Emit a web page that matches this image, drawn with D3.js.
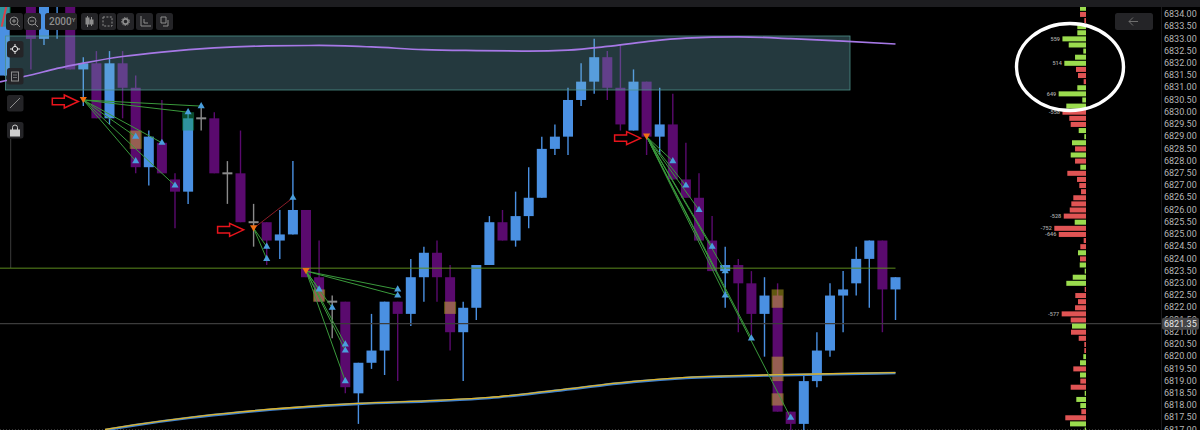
<!DOCTYPE html>
<html>
<head>
<meta charset="utf-8">
<script src="https://cdn.jsdelivr.net/npm/d3@7/dist/d3.min.js"></script>
<style>
  html, body { margin: 0; padding: 0; background: #000; overflow: hidden; }
  svg { display: block; font-family: Roboto, sans-serif; }
</style>
</head>
<body>
<div id="chart"></div>
<script>
// candles, first one is index -5 (cut off by the left edge)
var firstCandle = -5;
var opens = [6831.5, 6835.5, 6835, 6833, 6834.75, 6835,
  6831.75, 6832, 6829.75, 6832, 6831, 6827.75, 6828.75, 6827.25, 6826.75, 6829.75,
  6829.75, 6827.5, 6827.5, 6825.5, 6825.5, 6824.75, 6825, 6826, 6823.25, 6822.25,
  6822.25, 6818.5, 6819.75, 6820.25, 6822.25, 6821.75, 6823.25, 6824.25, 6823.25, 6821,
  6822, 6823.75, 6825.5, 6824.75, 6825.75, 6826.5, 6828.5, 6829, 6830.5, 6831.25,
  6832.25, 6831, 6829.25, 6831.25, 6829, 6829.5, 6827.25, 6826.5, 6824.75, 6823.5,
  6823.75, 6823, 6821.75, 6822.5, 6817.75, 6817.25, 6819, 6820.25, 6822.5, 6823,
  6824, 6824.75, 6822.75];
var closes = [6835, 6835.5, 6833, 6835, 6835, 6831.75,
  6832, 6829.75, 6832, 6831, 6827.75, 6829, 6827.5, 6826.75, 6829.75, 6829.75,
  6827.5, 6827.5, 6825.5, 6825.5, 6824.75, 6825, 6826, 6823.25, 6822.25, 6822.25,
  6818.75, 6819.75, 6820.25, 6822.25, 6821.75, 6823.25, 6824.25, 6823.25, 6821, 6822,
  6823.75, 6825.5, 6824.75, 6825.75, 6826.5, 6828.5, 6829, 6830.5, 6831.25, 6832.25,
  6831, 6829.5, 6831.25, 6829, 6829.5, 6827.25, 6826.5, 6824.75, 6823.5, 6823.75,
  6823, 6821.75, 6822.5, 6817.75, 6817.25, 6819, 6820.25, 6822.5, 6822.75, 6824,
  6824.75, 6822.75, 6823.25];
var highs = [6835, 6835.5, 6835, 6835, 6835, 6835,
  6832.25, 6832.5, 6832.5, 6832.5, 6831.5, 6829.25, 6830.5, 6827.5, 6830, 6830.25,
  6830, 6828, 6829.25, 6826.25, 6825.5, 6826, 6828, 6826, 6824.75, 6822.5,
  6822.25, 6819.75, 6821.75, 6822.25, 6822.25, 6824, 6824.5, 6824.75, 6823.75, 6822.25,
  6823.75, 6825.75, 6826, 6826.75, 6827.75, 6829, 6829.5, 6831, 6832, 6833,
  6832.5, 6832.75, 6831.75, 6831.25, 6831, 6830.75, 6828.75, 6827.5, 6825.75, 6824.5,
  6824, 6823.5, 6823.25, 6823, 6817.75, 6819.25, 6821, 6823, 6823.5, 6824.5,
  6824.75, 6824.75, 6823.25];
var lows = [6831.5, 6835.5, 6831.75, 6832.75, 6833, 6831.75,
  6830.25, 6829.75, 6829.5, 6829.75, 6827.5, 6827, 6827.5, 6825.25, 6826.25, 6829.25,
  6827.5, 6826.25, 6825.5, 6824.5, 6823.75, 6824, 6825, 6823.25, 6822.25, 6820.75,
  6818.5, 6817.25, 6819.5, 6819.25, 6819, 6821.25, 6822.25, 6822.25, 6820.25, 6819,
  6821.5, 6823.75, 6824.75, 6824.5, 6825.25, 6826.5, 6828.25, 6828.25, 6830.25, 6830.75,
  6830.5, 6829.25, 6829.25, 6828.25, 6828.25, 6827.25, 6826.5, 6824.75, 6823.5, 6822,
  6821, 6820.75, 6820, 6817.75, 6816.75, 6816.75, 6818.75, 6820, 6821, 6822.5,
  6822, 6821, 6821.5];

// wider tinted boxes laid over some candles
var boxCandles = [-5, 5, 9, 19, 29, 54, 54, 54];
var boxTops = [6835, 6829.25, 6830, 6822.75, 6822.25, 6822.75, 6820, 6818.5];
var boxBottoms = [6833.5, 6828.5, 6829.25, 6822.25, 6821.75, 6822, 6819, 6818];
var boxKinds = ["green", "orange", "green", "orange", "orange", "orange", "orange", "orange"];

// moving averages, read at a few candles
var purpleCandles = [-5.36, -3, -1, 1, 4, 7, 11, 15, 19, 23, 27, 31, 35, 38, 41, 44, 47, 51, 55, 59, 63];
var purplePrices = [6831.24, 6831.52, 6831.79, 6832.01, 6832.28, 6832.46, 6832.63, 6832.71, 6832.73, 6832.67, 6832.56,
  6832.52, 6832.5, 6832.54, 6832.69, 6832.89, 6833.03, 6833.08, 6833.01, 6832.91, 6832.79];
var yellowCandles = [2.66, 5, 9, 13, 17, 22, 28, 32, 37, 43, 47, 53, 57, 63];
var yellowPrices = [6817, 6817.2, 6817.49, 6817.72, 6817.9, 6818.07, 6818.19, 6818.31, 6818.6, 6818.97, 6819.13, 6819.23, 6819.27, 6819.33];

// entry signals and their target triangles
var signalCandles = [1, 14, 18, 44];
var signalPrices = [6830.5, 6825.25, 6823.5, 6829];
var targetCandles = [
  [10, 9, 5, 7, 5, 8],
  [15, 15],
  [25, 25, 19, 20, 21, 21, 21],
  [46, 47, 48, 49, 50, 50, 52, 55]
];
var targetPrices = [
  [6830.25, 6830, 6829, 6828.75, 6828, 6827],
  [6824.5, 6824],
  [6822.75, 6822.5, 6822.75, 6822, 6820.5, 6820.25, 6819],
  [6828, 6827, 6826, 6824.5, 6823.5, 6822.5, 6820.75, 6817.5]
];
var arrowSignals = [0, 1, 3];

// volume profile, one value per 0.25 starting at 6834.25
var profileTop = 6834.25;
var profileValues = [142, -142, -40, 206, 206, 559, 410, 64, 260, 514, -237, -190, -55, 206, 649, 88, 467,
  -558, -396, -363, 173, 40, 332, -260, 363, -260, 135, -443, -213, -159, -118, -301, -348, -386, -528,
  268, -752, -646, -55, -135, 190, -142, 149, 31, 315, 467, -31, -254, -190, -260, -577, -363, 332, -356,
  -173, -40, -40, 64, 142, -301, 142, -135, -363, 31, 230, 135, -111, -491, 379, 31];

var priceTicks = d3.range(6817, 6834.5, 0.5);
var lastPrice = 6821.35;
var levelPrice = 6823.62;

var svgWidth = 1200;
var svgHeight = 430;

var colors = {
  up: "#4a90e2",
  down: "#5a0a6e",
  doji: "#8a8a8a",
  green: "rgba(20,150,90,0.5)",
  orange: "rgba(240,220,40,0.4)"
};

var svg = d3.select("#chart").append("svg")
  .attr("width", svgWidth)
  .attr("height", svgHeight);

svg.append("rect")
  .attr("width", svgWidth)
  .attr("height", svgHeight)
  .attr("fill", "#000");

// price scale, same for candles and profile
var y = d3.scaleLinear()
  .domain([6817, 6834.59])
  .range([430, 0]);

// candle index to pixel
var x = d3.scaleLinear()
  .domain([-5, 63])
  .range([4.7, 895.5]);

var candles = opens.map(function(o, i) {
  return { index: firstCandle + i, open: o, close: closes[i], high: highs[i], low: lows[i] };
});

function candleColor(d) {
  if (d.open === d.close) return colors.doji;
  return d.close > d.open ? colors.up : colors.down;
}

var bodyWidth = 10;

// thin rail under the side buttons
svg.append("line")
  .attr("x1", 10.7)
  .attr("x2", 10.7)
  .attr("y1", 139)
  .attr("y2", 268)
  .attr("stroke", "#3a3a3a");

// dotted grid line at the very bottom
svg.append("line")
  .attr("x1", 0)
  .attr("x2", 1161)
  .attr("y1", 429.5)
  .attr("y2", 429.5)
  .attr("stroke", "#333")
  .attr("stroke-dasharray", "1,2");

// price lines under the candles
var chart = svg.append("g");

var wicks = chart.selectAll(".wick")
  .data(candles)
  .enter()
  .append("line")
  .attr("class", "wick")
  .attr("x1", d => x(d.index))
  .attr("x2", d => x(d.index))
  .attr("y1", d => y(d.high))
  .attr("y2", d => y(d.low))
  .attr("stroke", candleColor)
  .attr("stroke-width", 1.4);

var bodies = chart.selectAll(".body")
  .data(candles.filter(d => d.open !== d.close))
  .enter()
  .append("rect")
  .attr("class", "body")
  .attr("x", d => x(d.index) - bodyWidth / 2)
  .attr("width", bodyWidth)
  .attr("y", d => y(Math.max(d.open, d.close)))
  .attr("height", d => y(Math.min(d.open, d.close)) - y(Math.max(d.open, d.close)))
  .attr("fill", candleColor);

// dojis get a short flat bar
chart.selectAll(".dojiBar")
  .data(candles.filter(d => d.open === d.close))
  .enter()
  .append("rect")
  .attr("class", "dojiBar")
  .attr("x", d => x(d.index) - bodyWidth / 2)
  .attr("width", bodyWidth)
  .attr("y", d => y(d.open) - 1)
  .attr("height", 2)
  .attr("fill", colors.doji);

// tinted boxes
chart.selectAll(".box")
  .data(boxCandles)
  .enter()
  .append("rect")
  .attr("class", "box")
  .attr("x", d => x(d) - 6)
  .attr("width", 12)
  .attr("y", (d, i) => y(boxTops[i]))
  .attr("height", (d, i) => y(boxBottoms[i]) - y(boxTops[i]))
  .attr("fill", (d, i) => colors[boxKinds[i]]);

// zone over the candles at the top
svg.append("rect")
  .attr("x", 5.5)
  .attr("y", 36)
  .attr("width", 844.5)
  .attr("height", 54)
  .attr("fill", "rgba(120,190,205,0.3)")
  .attr("stroke", "#4d8f88")
  .attr("stroke-width", 0.8);

// level lines
svg.append("line")
  .attr("x1", 0)
  .attr("x2", x(63))
  .attr("y1", y(levelPrice))
  .attr("y2", y(levelPrice))
  .attr("stroke", "#5c8a1e");

svg.append("line")
  .attr("x1", 0)
  .attr("x2", 1162)
  .attr("y1", y(lastPrice))
  .attr("y2", y(lastPrice))
  .attr("stroke", "#3c3c3c")
  .attr("stroke-width", 1.2);

// averages
var purpleLine = d3.line()
  .x(d => x(d))
  .y((d, i) => y(purplePrices[i]))
  .curve(d3.curveMonotoneX);

svg.append("path")
  .attr("d", purpleLine(purpleCandles))
  .attr("fill", "none")
  .attr("stroke", "#a678e6")
  .attr("stroke-width", 1.7);

var yellowLine = d3.line()
  .x(d => x(d))
  .y((d, i) => y(yellowPrices[i]))
  .curve(d3.curveMonotoneX);

svg.append("path")
  .attr("d", yellowLine(yellowCandles))
  .attr("fill", "none")
  .attr("stroke", "#3f82cf")
  .attr("stroke-width", 2.6);

svg.append("path")
  .attr("d", yellowLine(yellowCandles))
  .attr("transform", "translate(0,-0.5)")
  .attr("fill", "none")
  .attr("stroke", "#e0b428")
  .attr("stroke-width", 1.3);

// red line in the far left corner
svg.append("line")
  .attr("x1", x(-5) - 3)
  .attr("y1", y(6833.5))
  .attr("x2", x(-5) + 2)
  .attr("y2", y(6834.4))
  .attr("stroke", "#d8414a")
  .attr("stroke-width", 2);

// signal lines and triangles
var triUp = d3.symbol().type(d3.symbolTriangle).size(22);

signalCandles.forEach(function(c, s) {
  targetCandles[s].forEach(function(t, k) {
    svg.append("line")
      .attr("x1", x(c))
      .attr("y1", y(signalPrices[s]))
      .attr("x2", x(t))
      .attr("y2", y(targetPrices[s][k]))
      .attr("stroke", "#3a9a3c")
      .attr("stroke-width", 1);
  });
});

// the one losing line
svg.append("line")
  .attr("x1", x(14))
  .attr("y1", y(6825.25))
  .attr("x2", x(17))
  .attr("y2", y(6826.5))
  .attr("stroke", "#8a1c28")
  .attr("stroke-width", 1);

signalCandles.forEach(function(c, s) {
  targetCandles[s].concat(s === 1 ? [17] : []).forEach(function(t, k) {
    var price = s === 1 && t === 17 ? 6826.5 : targetPrices[s][k];
    svg.append("path")
      .attr("d", triUp())
      .attr("transform", `translate(${x(t)},${y(price)})`)
      .attr("fill", "#4a9edc");
  });
  svg.append("path")
    .attr("d", triUp())
    .attr("transform", `translate(${x(c)},${y(signalPrices[s]) - 1}) rotate(180)`)
    .attr("fill", "#ef6f14");
});

// hand drawn red arrows, gap to the signal differs a bit for each
var arrowShape = "M-26,-3.2 L-14,-3.2 L-14,-6.5 L0,0 L-14,6.5 L-14,3.2 L-26,3.2 Z";
var arrowGaps = [5, 10, 6];
svg.selectAll(".redArrow")
  .data(arrowSignals)
  .enter()
  .append("path")
  .attr("class", "redArrow")
  .attr("d", arrowShape)
  .attr("transform", (d, i) => `translate(${x(signalCandles[d]) - arrowGaps[i]},${y(signalPrices[d]) + 1.5})`)
  .attr("fill", "none")
  .attr("stroke", "#e8141c")
  .attr("stroke-width", 1.5);

// volume profile
var barScale = d3.scaleLinear()
  .domain([0, 752])
  .range([0, 31.7]);

var profileRight = 1086;

var profile = profileValues.map(function(v, i) {
  return { price: profileTop - i * 0.25, value: v };
});

svg.selectAll(".profileBar")
  .data(profile)
  .enter()
  .append("rect")
  .attr("class", "profileBar")
  .attr("x", d => profileRight - barScale(Math.abs(d.value)))
  .attr("width", d => barScale(Math.abs(d.value)))
  .attr("y", d => y(d.price) - 2.5)
  .attr("height", 5)
  .attr("fill", d => d.value > 0 ? "#9bdc4e" : "#e05454");

svg.selectAll(".profileLabel")
  .data(profile.filter(d => Math.abs(d.value) > 500))
  .enter()
  .append("text")
  .attr("class", "profileLabel")
  .attr("x", d => profileRight - barScale(Math.abs(d.value)) - 2.5)
  .attr("y", d => y(d.price) + 2)
  .attr("text-anchor", "end")
  .attr("font-size", 5.5)
  .attr("font-weight", 500)
  .attr("fill", "#a8a8a8")
  .text(d => d.value);

// white circle someone drew by hand
svg.append("ellipse")
  .attr("cx", 1070)
  .attr("cy", 67)
  .attr("rx", 53.5)
  .attr("ry", 43.5)
  .attr("fill", "none")
  .attr("stroke", "#fff")
  .attr("stroke-width", 3.4);

// price axis
var yAxis = d3.axisRight(y)
  .tickValues(priceTicks)
  .tickSize(0)
  .tickPadding(0)
  .tickFormat(d3.format(".2f"));

var axisGroup = svg.append("g")
  .attr("transform", "translate(1164,-0.7)")
  .call(yAxis);

axisGroup.select(".domain").remove();
axisGroup.selectAll("text")
  .attr("font-family", "Roboto, sans-serif")
  .attr("font-size", 9)
  .attr("fill", "#b4b4b4");

svg.append("line")
  .attr("x1", 1161.5)
  .attr("x2", 1161.5)
  .attr("y1", 7)
  .attr("y2", 430)
  .attr("stroke", "#1c1c1e");

// last price tag
svg.append("rect")
  .attr("x", 1162)
  .attr("y", y(lastPrice) - 6)
  .attr("width", 37)
  .attr("height", 12)
  .attr("rx", 2)
  .attr("fill", "#454547");

svg.append("text")
  .attr("x", 1164)
  .attr("y", y(lastPrice) + 3)
  .attr("font-size", 9)
  .attr("fill", "#e8e8e8")
  .text(lastPrice.toFixed(2));

// top strip of the window
svg.append("rect")
  .attr("width", svgWidth)
  .attr("height", 7)
  .attr("fill", "#1d1d20");

// toolbar buttons
var topButtons = [[6, 17], [24, 17], [45, 32], [81, 17], [99, 17], [117, 17], [136, 17], [156, 17], [1115, 38]];
var sideButtons = [41, 68, 95, 122];

var toolbar = svg.append("g");

toolbar.selectAll(".topBtn")
  .data(topButtons)
  .enter()
  .append("rect")
  .attr("class", "topBtn")
  .attr("x", d => d[0])
  .attr("y", 13)
  .attr("width", d => d[1])
  .attr("height", 17)
  .attr("rx", 2.5)
  .attr("fill", "#242427");

toolbar.selectAll(".sideBtn")
  .data(sideButtons)
  .enter()
  .append("rect")
  .attr("class", "sideBtn")
  .attr("x", 7)
  .attr("y", d => d)
  .attr("width", 16.5)
  .attr("height", 16.5)
  .attr("rx", 2.5)
  .attr("fill", "#242427");

var icon = toolbar.append("g")
  .attr("fill", "none")
  .attr("stroke", "#8e8e8e")
  .attr("stroke-width", 1);

// zoom in, zoom out
icon.append("circle").attr("cx", 14).attr("cy", 21).attr("r", 4);
icon.append("path").attr("d", "M17,24 L20,27 M12,21 H16 M14,19 V23");
icon.append("circle").attr("cx", 32).attr("cy", 21).attr("r", 4);
icon.append("path").attr("d", "M35,24 L38,27 M30,21 H34");
// candles icon
icon.append("path").attr("d", "M87.5,16 V27 M91.5,17 V26");
icon.append("rect").attr("x", 86).attr("y", 18).attr("width", 3).attr("height", 6).attr("fill", "#8e8e8e");
icon.append("rect").attr("x", 90).attr("y", 20).attr("width", 3).attr("height", 4).attr("fill", "#8e8e8e");
// select box
icon.append("rect").attr("x", 103).attr("y", 17).attr("width", 9).attr("height", 9).attr("stroke-dasharray", "2,1.4");
// settings
icon.append("circle").attr("cx", 125.5).attr("cy", 21.5).attr("r", 2.6).attr("stroke-width", 1.6);
icon.append("circle").attr("cx", 125.5).attr("cy", 21.5).attr("r", 4).attr("stroke-dasharray", "1.4,1.4").attr("stroke-width", 1);
// axes
icon.append("path").attr("d", "M141,16 V26 H151 M144,19 V23 H148");
// copy
icon.append("path").attr("d", "M161,17 H166 V23 H161 Z M168,20 V26 H163");
// back arrow
icon.append("path").attr("d", "M1129,21.5 H1138 M1133,17.5 L1129,21.5 L1133,25.5").attr("stroke", "#6e6e6e");
// side icons
icon.append("path").attr("d", "M15,44 V54 M10,49 H20").attr("stroke", "#eee").attr("stroke-width", 1);
icon.append("circle").attr("cx", 15).attr("cy", 49).attr("r", 2.6).attr("stroke", "#eee").attr("fill", "#242427");
icon.append("rect").attr("x", 11.5).attr("y", 72).attr("width", 7).attr("height", 9);
icon.append("path").attr("d", "M13,75 H17 M13,77.5 H17").attr("stroke-width", 0.7);
icon.append("path").attr("d", "M10,108 L20,98");
icon.append("rect").attr("x", 10.5).attr("y", 130).attr("width", 9).attr("height", 6).attr("stroke", "#ccc").attr("fill", "#ccc");
icon.append("path").attr("d", "M12.5,130 V127.5 A2.5,2.5 0 0 1 17.5,127.5 V130").attr("stroke", "#ccc");

var rangeLabel = toolbar.append("text")
  .attr("x", 49)
  .attr("y", 25)
  .attr("font-size", 10)
  .attr("font-weight", 500)
  .attr("fill", "#8e8e8e")
  .text("2000");

rangeLabel.append("tspan")
  .attr("font-size", 6)
  .attr("dy", -3)
  .text("Y");
</script>
</body>
</html>
